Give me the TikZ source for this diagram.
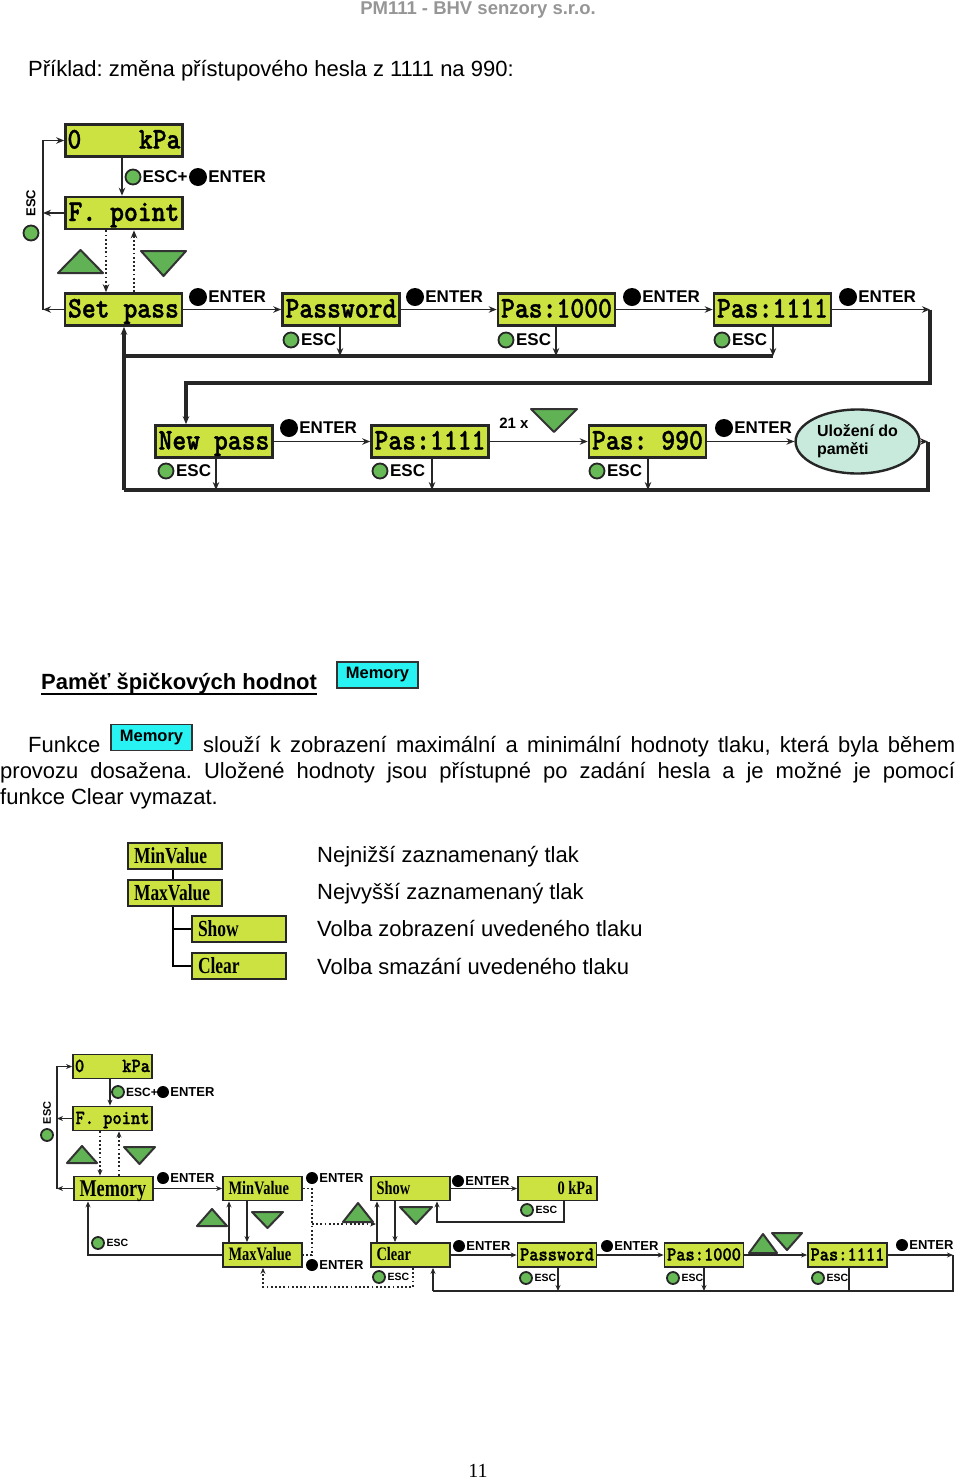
\documentclass[tikz,border=0pt]{standalone}
\usepackage{fontspec}
\setmainfont{Liberation Sans}
\newfontfamily\lcdfont[FakeStretch=0.88,FakeBold=1.2]{lmmonolt10-bold.otf}
\newfontfamily\valfont[FakeStretch=0.76]{Liberation Serif}
\newfontfamily\pagefont{Liberation Serif}
\usetikzlibrary{positioning,shapes.geometric,arrows.meta}
\frenchspacing

\definecolor{lcdgreen}{RGB}{204,226,64}
\definecolor{btngreen}{RGB}{104,186,86}
\definecolor{trigreen}{RGB}{96,178,84}
\definecolor{memcyan}{RGB}{40,242,242}
\definecolor{savefill}{RGB}{200,234,220}
\definecolor{headgray}{RGB}{150,150,150}

\newcommand{\enterkey}[3][]{\node[kbtn,#1] (#2) at (#3) {}; \node[key,#1,right=1pt of #2] {ENTER};}
\newcommand{\esckey}[3][]{\node[gbtn,#1] (#2) at (#3) {}; \node[key,#1,right=1.5pt of #2] {ESC};}
\newcommand{\uptri}[4]{\draw[tri] (#1,#2) -- ++(#3,0) -- ++(-#3/2,-#4) -- cycle;}
\newcommand{\dntri}[4]{\draw[tri] (#1,#2) -- ++(#3,0) -- ++(-#3/2,#4) -- cycle;}

\begin{document}
\begin{tikzpicture}[x=1pt,y=-1pt,
  lcd/.style={draw=black!85, line width=2.6pt, fill=lcdgreen, inner sep=0pt, minimum width=117pt, minimum height=32pt, font=\lcdfont\fontsize{30}{30}\selectfont, text height=18pt, text depth=2pt},
  lcdsm/.style={lcd, line width=1.8pt, minimum width=79pt, minimum height=24pt, font=\lcdfont\fontsize{20}{20}\selectfont, text height=12pt, text depth=1pt},
  valsm/.style={lcdsm, font=\valfont\bfseries\fontsize{19}{19}\selectfont},
  valbox/.style={lcd, line width=2pt, minimum width=94pt, minimum height=26pt, font=\valfont\bfseries\fontsize{23}{23}\selectfont, text height=15pt, text depth=1pt},
  arr/.style={-{Stealth[length=8pt,width=6.5pt]}},
  sarr/.style={-{Stealth[length=6pt,width=5pt]}},
  wire/.style={line width=1.8pt, draw=black!85},
  swire/.style={line width=1.4pt, draw=black!85},
  bus/.style={line width=3.6pt, draw=black!85},
  sbus/.style={line width=2.4pt, draw=black!85},
  dots/.style={dash pattern=on 1.8pt off 2.4pt},
  tri/.style={fill=trigreen, draw=black!80, line width=2pt, line join=round},
  kbtn/.style={circle, fill=black, minimum size=18pt, inner sep=0pt},
  gbtn/.style={circle, draw=black!85, line width=1.8pt, fill=btngreen, minimum size=15pt, inner sep=0pt},
  key/.style={inner sep=0pt, font=\bfseries\fontsize{17}{17}\selectfont},
  sm/.style={minimum size=12pt, font=\bfseries\fontsize{13}{13}\selectfont},
  smesc/.style={sm, font=\bfseries\fontsize{10.5}{11}\selectfont},
  txt/.style={inner sep=0pt, anchor=base west, font=\fontsize{22}{26}\selectfont},
  membox/.style={draw=black!80, line width=1.5pt, fill=memcyan, minimum width=81pt, minimum height=26pt, inner sep=0pt, font=\bfseries\fontsize{16.5}{17}\selectfont},
]
\useasboundingbox (0,0) rectangle (960,1481);

% page head
\node[font=\bfseries\fontsize{18.5}{19}\selectfont, text=headgray] (hdr) at (478,10) {PM111 - BHV senzory s.r.o.};
\node[txt] (ttl) at (28,76) {Příklad: změna přístupového hesla z 1111 na 990:};

% ---- password change ----
\node[lcd] (kpa) at (124,140.5) {\makebox[113pt]{0\hfill kPa}};
\node[lcd] (fpt) at (124,213) {F. point};
\node[lcd] (setp) at (123.5,309.5) {Set pass};
\node[lcd] (pwd) at (341,309.5) {Password};
\node[lcd] (pa) at (556.5,309.5) {Pas:1000};
\node[lcd] (pb) at (772.5,309.5) {Pas:1111};
\node[lcd] (newp) at (214,441.5) {New pass};
\node[lcd] (pc) at (430,441.5) {Pas:1111};
\node[lcd] (pd) at (647.5,441.5) {Pas: 990};
\node[ellipse, draw=black!85, line width=2.4pt, fill=savefill, minimum width=105pt, minimum height=64pt, align=left, font=\bfseries\fontsize{16}{18}\selectfont] (save) at (857.5,441.5) {Uložení do\\paměti};

% ESC back to the measuring screen
\coordinate (escT) at (43,140.5);
\coordinate (escB) at (43,309.5);
\draw[wire,arr] (setp.west) -- (escB);
\draw[wire,arr] (fpt.west) -- (fpt.west -| escB);
\draw[wire,arr] (escB) -- (escT) -- (kpa.west);
\node[gbtn] (escg) at (31,233) {};
\node[key, rotate=90, font=\bfseries\fontsize{13}{13}\selectfont] (escr) at (31,203) {ESC};

\draw[wire,arr] (kpa.south -| 122,0) -- (fpt.north -| 122,0);
\node[gbtn] (g0) at (133,177) {};
\node[key, right=1pt of g0] (t0) {ESC+};
\enterkey{k0}{198,177}

\draw[wire,dots,arr] (fpt.south -| 106,0) -- (setp.north -| 106,0);
\draw[wire,dots,arr] (setp.north -| 134,0) -- (fpt.south -| 134,0);
\uptri{58}{273}{45}{23}
\dntri{141}{251}{45}{25}

\draw[wire,arr] (setp.east) -- (pwd.west);
\draw[wire,arr] (pwd.east) -- (pa.west);
\draw[wire,arr] (pa.east) -- (pb.west);
\enterkey{k1}{198,297}
\enterkey{k2}{415,297}
\enterkey{k3}{632,297}
\enterkey{k4}{848,297}
\esckey{e1}{291,340}
\esckey{e2}{506,340}
\esckey{e3}{722,340}

\coordinate (busA) at (124,356);
\draw[bus] (busA) -- (busA -| 773,0);
\foreach \n/\x in {pwd/340,pa/556,pb/773}
  \draw[wire,arr] (\n.south -| \x,0) -- (busA -| \x,0);

\coordinate (r1) at (930,309.5);
\coordinate (r2) at (930,383);
\coordinate (r3) at (186,383);
\draw[wire,arr] (pb.east) -- (r1);
\draw[bus,arr] (r1) -- (r2) -- (r3) -- (newp.north -| r3);

\draw[wire,arr] (newp.east) -- (pc.west);
\draw[wire,arr] (pc.east) -- (pd.west);
\draw[wire,arr] (pd.east) -- (save.west);
\enterkey{k5}{289,428}
\enterkey{k6}{724,428}
\node[key, font=\bfseries\fontsize{15}{15}\selectfont] (cnt) at (514,423) {21 x};
\dntri{531}{409}{46}{23}
\esckey{e4}{166,471}
\esckey{e5}{380,471}
\esckey{e6}{597,471}

\coordinate (r4) at (928,441.5);
\coordinate (r5) at (928,490);
\coordinate (busB) at (124,490);
\draw[wire,arr] (save.east) -- (r4);
\draw[bus] (r4) -- (r5) -- (busB);
\draw[bus,arr] (busB) -- (setp.south -| busB);
\foreach \n/\x in {newp/216,pc/432,pd/648}
  \draw[wire,arr] (\n.south -| \x,0) -- (busB -| \x,0);

% ---- peak memory ----
\node[txt, font=\bfseries\fontsize{22}{26}\selectfont] (memttl) at (41,689) {Paměť špičkových hodnot};
\draw[line width=1.5pt] ([yshift=-5pt]memttl.base west) -- ([yshift=-5pt]memttl.base east);
\node[membox] (memA) at (377.5,675) {Memory};
\node[txt] (fk) at (28,752) {Funkce};
\node[membox] (memB) at (151.5,737.5) {Memory};
\node[txt] (ln1) at (203,752) {\hbox to 752pt{slouží k zobrazení maximální a minimální hodnoty tlaku, která byla během}};
\node[txt] (ln2) at (0,778) {\hbox to 955pt{provozu dosažena. Uložené hodnoty jsou přístupné po zadání hesla a je možné je pomocí}};
\node[txt] (ln3) at (0,804) {funkce Clear vymazat.};

\node[valbox] (tmin) at (175,856) {\makebox[82pt][l]{MinValue}};
\node[valbox] (tmax) at (175,893) {\makebox[82pt][l]{MaxValue}};
\node[valbox] (tshow) at (239,929) {\makebox[82pt][l]{Show}};
\node[valbox] (tclr) at (239,966) {\makebox[82pt][l]{Clear}};
\draw[line width=1.8pt] (tmin.south -| 173,0) -- (tmax.north -| 173,0);
\draw[line width=1.8pt] (tmax.south -| 173,0) |- (tclr.west);
\draw[line width=1.8pt] (tshow.west) -- (tshow.west -| 173,0);
\node[txt] (d1) at (317,862) {Nejnižší zaznamenaný tlak};
\node[txt] (d2) at (317,899) {Nejvyšší zaznamenaný tlak};
\node[txt] (d3) at (317,936) {Volba zobrazení uvedeného tlaku};
\node[txt] (d4) at (317,974) {Volba smazání uvedeného tlaku};

% ---- memory menu ----
\node[lcdsm] (bkpa) at (112.5,1066.5) {\makebox[75pt]{0\hfill kPa}};
\node[lcdsm] (bfpt) at (112.5,1118.5) {F. point};
\node[valsm, font=\valfont\bfseries\fontsize{24}{24}\selectfont, text height=16pt] (bmem) at (113.5,1188.5) {\makebox[68pt][l]{Memory}};
\node[valsm] (bmin) at (262.5,1188.5) {\makebox[68pt][l]{MinValue}};
\node[valsm] (bmax) at (262.5,1255) {\makebox[68pt][l]{MaxValue}};
\node[valsm] (bshow) at (410.5,1188.5) {\makebox[68pt][l]{Show}};
\node[valsm] (bclr) at (410.5,1255) {\makebox[68pt][l]{Clear}};
\node[valsm] (bkpr) at (557.5,1188.5) {\makebox[70pt][r]{0 kPa}};
\node[lcdsm] (bpwd) at (557,1255) {Password};
\node[lcdsm] (bpa) at (704,1255) {Pas:1000};
\node[lcdsm] (bpb) at (847.5,1255) {Pas:1111};

\coordinate (bescT) at (57,1066.5);
\coordinate (bescB) at (57,1188.5);
\draw[swire,sarr] (bmem.west) -- (bescB);
\draw[swire,sarr] (bfpt.west) -- (bfpt.west -| bescB);
\draw[swire,sarr] (bescB) -- (bescT) -- (bkpa.west);
\node[gbtn,sm] (bescg) at (47,1135) {};
\node[key, rotate=90, font=\bfseries\fontsize{11}{11}\selectfont] (bescr) at (47,1113) {ESC};

\draw[swire,sarr] (bkpa.south -| 110,0) -- (bfpt.north -| 110,0);
\node[gbtn,sm] (bg0) at (118,1092) {};
\node[key,sm, font=\bfseries\fontsize{12}{12}\selectfont, right=1pt of bg0] (bt0) {ESC+};
\enterkey[sm]{bk0}{163,1092}
\draw[swire,dots,sarr] (bfpt.south -| 100,0) -- (bmem.north -| 100,0);
\draw[swire,dots,sarr] (bmem.north -| 119,0) -- (bfpt.south -| 119,0);
\uptri{67}{1163}{30}{17}
\dntri{124}{1147}{31}{17}

\draw[swire,sarr] (bmem.east) -- (bmin.west);
\enterkey[sm]{bk1}{163,1178}
\draw[swire,sarr] (bmax.north -| 229,0) -- (bmin.south -| 229,0);
\draw[swire,sarr] (bmin.south -| 247,0) -- (bmax.north -| 247,0);
\uptri{197}{1226}{30}{17}
\dntri{252}{1212}{31}{16}
\coordinate (bret) at (88,1255);
\draw[sbus,sarr] (bmax.west) -- (bret) -- (bmem.south -| bret);
\esckey[smesc]{be1}{98,1243}

\coordinate (dj) at (312,1224);
\draw[swire,dots] (bmin.east) -- (bmin.east -| dj) -- (bmax.east -| dj) -- (bmax.east);
\draw[swire,dots,sarr] (dj) -- (dj -| 376,0);
\enterkey[sm]{bk2}{312,1178}
\enterkey[sm]{bk3}{312,1265}
\draw[swire,sarr] (bclr.north -| 377,0) -- (bshow.south -| 377,0);
\draw[swire,sarr] (bshow.south -| 395,0) -- (bclr.north -| 395,0);
\uptri{343}{1222}{30}{19}
\dntri{400}{1207}{32}{17}
\coordinate (cd1) at (413,1287);
\coordinate (cd2) at (263,1287);
\draw[swire,dots,sarr] (bclr.south -| cd1) -- (cd1) -- (cd2) -- (bmax.south -| cd2);
\esckey[smesc]{be2}{379,1277}

\draw[swire,sarr] (bshow.east) -- (bkpr.west);
\enterkey[sm]{bk4}{458,1181}
\coordinate (kr1) at (564,1222);
\coordinate (kr2) at (437,1222);
\draw[sbus,sarr] (bkpr.south -| kr1) -- (kr1) -- (kr2) -- (bshow.south -| kr2);
\esckey[smesc]{be3}{527,1210}

\draw[swire,sarr] (bclr.east) -- (bpwd.west);
\draw[swire,sarr] (bpwd.east) -- (bpa.west);
\draw[swire,sarr] (bpa.east) -- (bpb.west);
\enterkey[sm]{bk5}{459,1246}
\enterkey[sm]{bk6}{607,1246}
\enterkey[sm]{bk7}{902,1245}
\uptri{749}{1253}{28}{19}
\dntri{772}{1233}{30}{17}
\esckey[smesc]{be4}{526,1278}
\esckey[smesc]{be5}{673,1278}
\esckey[smesc]{be6}{818,1278}

\coordinate (br1) at (953,1255);
\coordinate (br2) at (953,1291);
\coordinate (br3) at (433,1291);
\draw[swire,sarr] (bpb.east) -- (br1);
\draw[sbus] (br1) -- (br2) -- (br3);
\draw[sbus,sarr] (br3) -- (bclr.south -| br3);
\foreach \n/\x in {bpwd/558,bpa/704}
  \draw[swire,sarr] (\n.south -| \x,0) -- (br3 -| \x,0);
\draw[swire] (bpb.south -| 849,0) -- (br3 -| 849,0);

\node[font=\pagefont\fontsize{20}{20}\selectfont] (pg) at (478,1471) {11};
\end{tikzpicture}
\end{document}
